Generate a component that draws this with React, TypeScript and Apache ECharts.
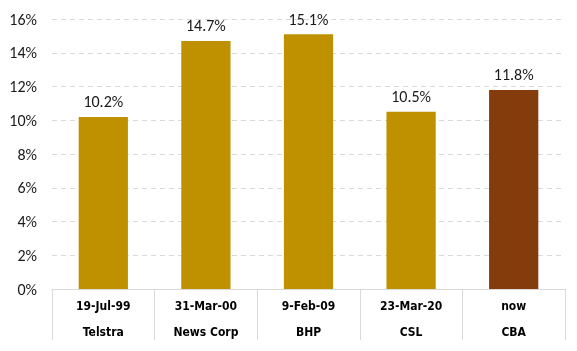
import React, { useEffect, useRef } from "react";
import * as echarts from "echarts";

const dates = ["19-Jul-99", "31-Mar-00", "9-Feb-09", "23-Mar-20", "now"];
const names = ["Telstra", "News Corp", "BHP", "CSL", "CBA"];
const values = [10.2, 14.7, 15.1, 10.5, 11.8];
const barColors = ["#BF9000", "#BF9000", "#BF9000", "#BF9000", "#843C0C"];

export default function App() {
  const ref = useRef<HTMLDivElement>(null);
  useEffect(() => {
    document.body.style.margin = "0";
    const chart = echarts.init(ref.current!, null, { renderer: "svg" });
    const labelFont = "Carlito, Lato, 'Open Sans', sans-serif";
    const catFont = "'Liberation Sans Narrow', 'Arial Narrow', 'DejaVu Sans Condensed', sans-serif";
    chart.setOption({
      animation: false,
      grid: { left: 52, right: 12, top: 19, bottom: 62 },
      xAxis: {
        type: "category",
        data: dates.map((d, i) => `${d}\n${names[i]}`),
        axisLine: { lineStyle: { color: "#d9d9d9", width: 1 } },
        axisTick: { show: true, length: 51, interval: 0, lineStyle: { color: "#d9d9d9" } },
        axisLabel: {
          interval: 0,
          margin: 4,
          formatter: (v: string) => {
            const [a, b] = v.split("\n");
            return `{a|${a}}\n{a|${b}}`;
          },
          rich: {
            a: {
              fontFamily: catFont,
              fontWeight: "bold",
              fontSize: 12,
              color: "#000",
              lineHeight: 26,
            },
          },
        },
      },
      yAxis: {
        type: "value",
        min: 0,
        max: 16,
        interval: 2,
        axisLine: { show: false },
        axisTick: { show: false },
        axisLabel: {
          formatter: "{value}%",
          fontFamily: labelFont,
          fontSize: 16,
          color: "#1a1a1a",
          margin: 15,
        },
        splitLine: { lineStyle: { color: "#d9d9d9", type: [5, 4] } },
      },
      series: [
        {
          type: "bar",
          data: values.map((v, i) => ({ value: v, itemStyle: { color: barColors[i] } })),
          barWidth: "48%",
          label: {
            show: true,
            position: "top",
            distance: 7,
            formatter: (p: any) => `${p.value.toFixed(1)}%`,
            fontFamily: labelFont,
            fontSize: 16,
            color: "#1a1a1a",
          },
        },
      ],
    });
    return () => chart.dispose();
  }, []);
  return <div ref={ref} style={{ position: "fixed", left: 0, top: 0, width: 577, height: 351 }} />;
}
